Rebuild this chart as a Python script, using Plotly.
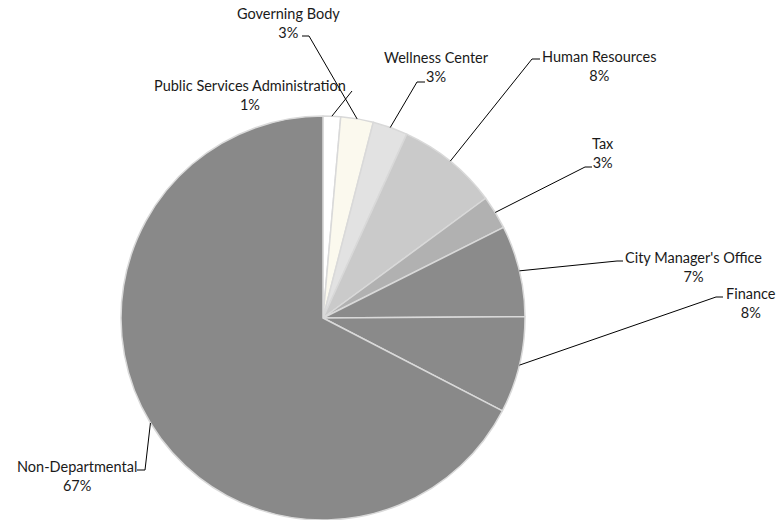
import math
import plotly.graph_objects as go

# Budget share by department (percent of total)
departments = [
    "Public Services Administration",
    "Governing Body",
    "Wellness Center",
    "Human Resources",
    "Tax",
    "City Manager's Office",
    "Finance",
    "Non-Departmental",
]
shares = [1.4, 2.6, 2.8, 8.1, 2.7, 7.3, 7.7, 67.4]

slice_colors = ["#ffffff", "#fbf9ee", "#e2e2e2", "#cacaca",
                "#b1b1b1", "#8b8b8b", "#8a8a8a", "#898989"]

W, H = 778, 520
CX, CY, R = 323, 318, 202  # pie centre and radius in pixels

# Label placement in pixels: text centre (x, y), elbow point, tick end
label_layout = {
    "Public Services Administration": dict(cx=250, cy=95, elbow=(352, 91), tick=(352, 91)),
    "Governing Body": dict(cx=288, cy=23.5, elbow=(309, 36), tick=(302, 36)),
    "Wellness Center": dict(cx=436, cy=67.5, elbow=(417, 82), tick=(425, 82)),
    "Human Resources": dict(cx=599, cy=66, elbow=(532, 59), tick=(540, 59)),
    "Tax": dict(cx=603, cy=153, elbow=(585, 167), tick=(592, 167)),
    "City Manager's Office": dict(cx=693, cy=266.5, elbow=(617, 261), tick=(623, 261)),
    "Finance": dict(cx=751, cy=302.5, elbow=(716, 297), tick=(723, 297)),
    "Non-Departmental": dict(cx=77, cy=475.5, elbow=(145, 470), tick=(137, 470)),
}


def px(x):
    return x / W


def py(y):
    return 1 - y / H


fig = go.Figure(go.Pie(
    labels=departments,
    values=shares,
    sort=False,
    direction="clockwise",
    rotation=0,
    marker=dict(colors=slice_colors, line=dict(color="#d9d9d9", width=1.5)),
    textinfo="none",
    hoverinfo="label+percent",
    showlegend=False,
    domain=dict(x=[px(CX - R), px(CX + R)], y=[0, 2 * R / H]),
))

total = sum(shares)
cum = 0.0
shapes, annotations = [], []
for name, v in zip(departments, shares):
    mid = (cum + v / 2) / total
    cum += v
    theta = 2 * math.pi * mid
    ex = CX + R * math.sin(theta)
    ey = CY - R * math.cos(theta)
    lay = label_layout[name]
    (bx, by), (tx, ty) = lay["elbow"], lay["tick"]
    shapes.append(dict(
        type="path", xref="paper", yref="paper",
        path=f"M {px(ex)},{py(ey)} L {px(bx)},{py(by)} L {px(tx)},{py(ty)}",
        line=dict(color="#000000", width=1),
    ))
    pct = round(v / total * 100)
    annotations.append(dict(
        x=px(lay["cx"]), y=py(lay["cy"]), xref="paper", yref="paper",
        text=f"{name}<br>{pct}%", showarrow=False,
        xanchor="center", yanchor="middle", align="center",
        font=dict(family="Lato", size=14.5, color="#1a1a1a"),
    ))

fig.update_layout(
    width=W, height=H,
    margin=dict(l=0, r=0, t=0, b=0),
    paper_bgcolor="white", plot_bgcolor="white",
    shapes=shapes, annotations=annotations,
)

fig.write_html("out.html")
